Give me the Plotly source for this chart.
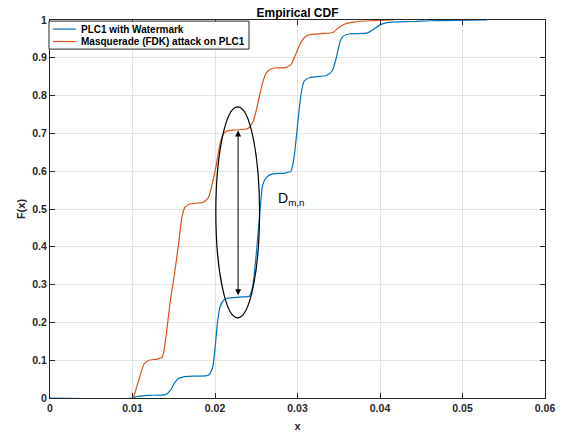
import plotly.graph_objects as go

# Data
blue_x = [0, 0.0100, 0.0105, 0.0120, 0.0140, 0.0146, 0.0151, 0.0156, 0.0162, 0.0175, 0.0192,
          0.0197, 0.0200, 0.0203, 0.0206, 0.0210, 0.0215, 0.0230, 0.0242, 0.0246, 0.0250,
          0.0254, 0.0258, 0.0263, 0.0270, 0.0285, 0.0292, 0.0296, 0.0300, 0.0304, 0.0308,
          0.0315, 0.0335, 0.0342, 0.0347, 0.0352, 0.0356, 0.0362, 0.0385, 0.0392, 0.0400,
          0.0408, 0.0420, 0.0440, 0.0460, 0.0490, 0.0530]
blue_y = [0, 0, 0.004, 0.007, 0.009, 0.02, 0.04, 0.052, 0.056, 0.058, 0.06,
          0.08, 0.13, 0.2, 0.24, 0.258, 0.264, 0.267, 0.27, 0.3, 0.38,
          0.48, 0.565, 0.585, 0.593, 0.595, 0.6, 0.64, 0.72, 0.8, 0.838,
          0.848, 0.853, 0.865, 0.9, 0.945, 0.958, 0.963, 0.966, 0.975, 0.987,
          0.993, 0.995, 0.996, 0.998, 0.999, 1.0]

red_x = [0.0101, 0.0108, 0.0114, 0.0120, 0.0130, 0.0136, 0.0141, 0.0146, 0.0151, 0.0156,
         0.0160, 0.0164, 0.0170, 0.0185, 0.0192, 0.0197, 0.0201, 0.0205, 0.0209, 0.0214,
         0.0225, 0.0240, 0.0246, 0.0251, 0.0256, 0.0261, 0.0265, 0.0272, 0.0285, 0.0292,
         0.0298, 0.0304, 0.0310, 0.0316, 0.0330, 0.0343, 0.0350, 0.0358, 0.0370, 0.0390,
         0.0416]
red_y = [0, 0.05, 0.09, 0.1, 0.103, 0.108, 0.17, 0.26, 0.33, 0.41,
         0.48, 0.506, 0.514, 0.517, 0.53, 0.57, 0.61, 0.66, 0.695, 0.706,
         0.709, 0.713, 0.73, 0.77, 0.82, 0.855, 0.867, 0.873, 0.874, 0.882,
         0.91, 0.94, 0.957, 0.962, 0.964, 0.967, 0.98, 0.99, 0.995, 0.998,
         1.0]

series_names = ["PLC1 with Watermark", "Masquerade (FDK) attack on PLC1"]
series_colors = ["#0072BD", "#D95319"]
x_ticks = [0, 0.01, 0.02, 0.03, 0.04, 0.05, 0.06]
y_ticks = [0, 0.1, 0.2, 0.3, 0.4, 0.5, 0.6, 0.7, 0.8, 0.9, 1]

# annotation geometry
ellipse_x = [0.0201, 0.0254]
ellipse_y = [0.212, 0.77]
arrow_x = 0.0228
arrow_y = [0.268, 0.708]

FONT = "Liberation Sans, Arial, sans-serif"
AX = "#262626"

fig = go.Figure()
fig.add_trace(go.Scatter(x=blue_x, y=blue_y, mode="lines", name=series_names[0], showlegend=False,
                         line=dict(color=series_colors[0], width=1.2, shape="spline", smoothing=0.6)))
fig.add_trace(go.Scatter(x=red_x, y=red_y, mode="lines", name=series_names[1], showlegend=False,
                         line=dict(color=series_colors[1], width=1.2, shape="spline", smoothing=0.6)))

fig.add_shape(type="circle", xref="x", yref="y",
              x0=ellipse_x[0], x1=ellipse_x[1], y0=ellipse_y[0], y1=ellipse_y[1],
              line=dict(color="black", width=1.2))

fig.add_annotation(x=arrow_x, y=arrow_y[1], ax=arrow_x, ay=arrow_y[0],
                   xref="x", yref="y", axref="x", ayref="y", text="",
                   showarrow=True, arrowhead=2, startarrowhead=2, arrowside="end+start",
                   arrowwidth=1, arrowsize=1.2, arrowcolor="black")

fig.add_annotation(x=0.02735, y=0.497, xref="x", yref="y", text="D<sub>m,n</sub>",
                   showarrow=False, xanchor="left", yanchor="bottom",
                   font=dict(family=FONT, size=14, color="black"))

# legend box (drawn manually to match the compact MATLAB legend)
fig.add_shape(type="rect", xref="paper", yref="paper", x0=-0.002, x1=0.402, y0=0.923, y1=0.997,
              line=dict(color=AX, width=1), fillcolor="white", layer="above")
leg_y = [0.976, 0.943]
for name, col, ly in zip(series_names, series_colors, leg_y):
    fig.add_shape(type="line", xref="paper", yref="paper", x0=0.006, x1=0.0525, y0=ly, y1=ly,
                  line=dict(color=col, width=1.2), layer="above")
    fig.add_annotation(x=0.058, y=ly, xref="paper", yref="paper", text=name,
                       showarrow=False, xanchor="left", yanchor="middle",
                       font=dict(family=FONT, size=10, color="black", weight="bold"))

axis_common = dict(showline=True, linecolor=AX, linewidth=1, mirror="allticks",
                   ticks="inside", ticklen=5, tickcolor=AX, automargin=False,
                   showgrid=True, gridcolor="#E3E3E3", gridwidth=1, zeroline=False,
                   tickfont=dict(family=FONT, size=10.5, color=AX, weight="bold"))

fig.update_xaxes(range=[0, 0.06], tickvals=x_ticks,
                 ticktext=["%g" % v for v in x_ticks],
                 title=dict(text="x", font=dict(family=FONT, size=11, color=AX, weight="bold"), standoff=9),
                 **axis_common)
fig.update_yaxes(range=[0, 1], tickvals=y_ticks,
                 ticktext=["%g" % v for v in y_ticks],
                 title=dict(text="F(x)", font=dict(family=FONT, size=11, color=AX, weight="bold"), standoff=4),
                 **axis_common)

fig.update_layout(
    width=574, height=435,
    margin=dict(l=50, r=29, t=20, b=37, autoexpand=False),
    paper_bgcolor="white", plot_bgcolor="white",
    title=dict(text="Empirical CDF", x=0.5, xanchor="center", xref="paper",
               y=1, yref="paper", yanchor="bottom", pad=dict(b=3), automargin=False,
               font=dict(family=FONT, size=12, color="black", weight="bold")),
    showlegend=False,
)

fig.write_html("out.html")
